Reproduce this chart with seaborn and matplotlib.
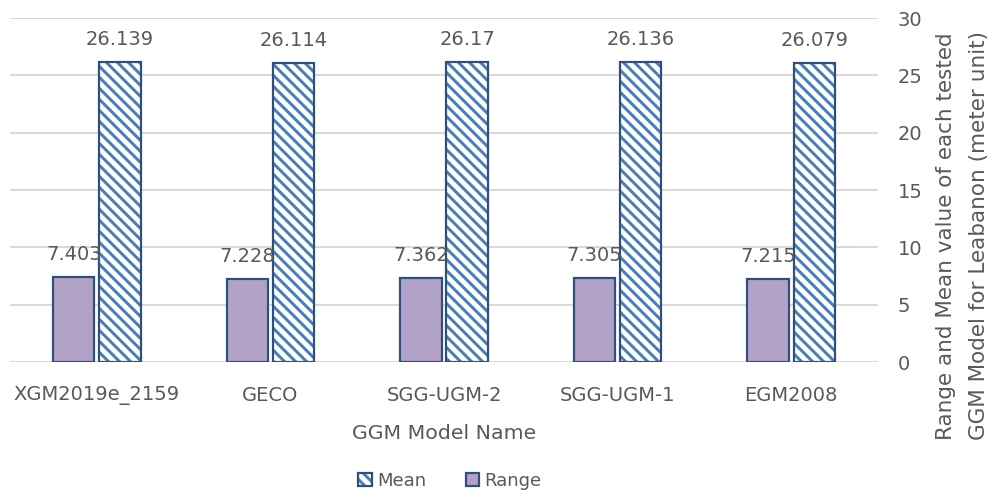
import matplotlib
matplotlib.use("Agg")
import matplotlib.pyplot as plt
from matplotlib.colors import to_rgba
from matplotlib.patches import Patch
import seaborn as sns
import pandas as pd

# ---- data -------------------------------------------------------------
models = ["XGM2019e_2159", "GECO", "SGG-UGM-2", "SGG-UGM-1", "EGM2008"]
range_vals = [7.403, 7.228, 7.362, 7.305, 7.215]
mean_vals = [26.139, 26.114, 26.17, 26.136, 26.079]
y_ticks = [0, 5, 10, 15, 20, 25, 30]

# ---- styling ----------------------------------------------------------
DPI = 132
PX = 72.0 / DPI                      # one pixel expressed in points
TEXT = "#595959"
GRID = "#d9d9d9"
EDGE = "#2f4f7f"
RANGE_FILL = "#b3a2c7"
HATCH_BLUE = "#4a7ebb"
BACKSLASH = chr(92)
MEAN_HATCH = BACKSLASH * 4           # dense down-right diagonal stripes

sns.set_theme(style="white")
plt.rcParams["font.family"] = ["DejaVu Sans"]
plt.rcParams["hatch.linewidth"] = 3.0 * PX

df = pd.DataFrame({
    "Model": models * 2,
    "Value": range_vals + mean_vals,
    "Statistic": ["Range"] * len(models) + ["Mean"] * len(models),
})

fig = plt.figure(figsize=(993 / DPI, 492 / DPI), dpi=DPI)
ax = fig.add_axes([10 / 993, 1 - 362 / 492, 868 / 993, 344 / 492])

sns.barplot(
    data=df, x="Model", y="Value", hue="Statistic",
    order=models, hue_order=["Range", "Mean"],
    palette={"Range": RANGE_FILL, "Mean": "white"},
    saturation=1, width=0.53, gap=0.1,
    edgecolor=EDGE, linewidth=2.2 * PX,
    legend=False, ax=ax,
)

range_bars, mean_bars = ax.containers[0], ax.containers[1]
for p in mean_bars:
    p.set_facecolor("white")
    p.set_hatch(MEAN_HATCH)
    p.set_edgecolor(EDGE)
    p._hatch_color = to_rgba(HATCH_BLUE)

# value labels above the bars
for cont in (range_bars, mean_bars):
    ax.bar_label(cont, fmt="{:g}", padding=13 * PX,
                 fontsize=19.5 * PX, color=TEXT)

# axes, grid and ticks
ax.set_ylim(0, 30)
ax.set_yticks(y_ticks)
ax.yaxis.tick_right()
ax.yaxis.set_label_position("right")
ax.grid(axis="y", color=GRID, linewidth=2 * PX)
ax.set_axisbelow(True)
for s in ax.spines.values():
    s.set_visible(False)
ax.tick_params(axis="y", length=0, pad=20 * PX, labelsize=19.5 * PX,
               labelcolor=TEXT)
ax.tick_params(axis="x", length=0, pad=24 * PX, labelsize=19.5 * PX,
               labelcolor=TEXT)

ax.set_xlabel("GGM Model Name", fontsize=20.5 * PX, color=TEXT,
              labelpad=19 * PX)
ax.set_ylabel("Range and Mean value of each tested\n"
              "GGM Model for Leabanon (meter unit)",
              fontsize=21.5 * PX, color=TEXT, linespacing=1.8,
              rotation=90)
ax.yaxis.set_label_coords((936 - 10) / 868, (362 - 236) / 344)

# legend: Mean first, then Range
handles = [
    Patch(facecolor="white", edgecolor=EDGE, hatch=MEAN_HATCH,
          linewidth=2.2 * PX, label="Mean"),
    Patch(facecolor=RANGE_FILL, edgecolor=EDGE,
          linewidth=2.2 * PX, label="Range"),
]
handles[0]._hatch_color = to_rgba(HATCH_BLUE)
fig.legend(handles=handles, loc="center", ncol=2, frameon=False,
           bbox_to_anchor=(450 / 993, 1 - 481 / 492),
           fontsize=18 * PX, labelcolor=TEXT,
           handlelength=0.75, handleheight=0.75, handletextpad=0.3,
           columnspacing=2.2)

fig.savefig("out.png", dpi=DPI)
